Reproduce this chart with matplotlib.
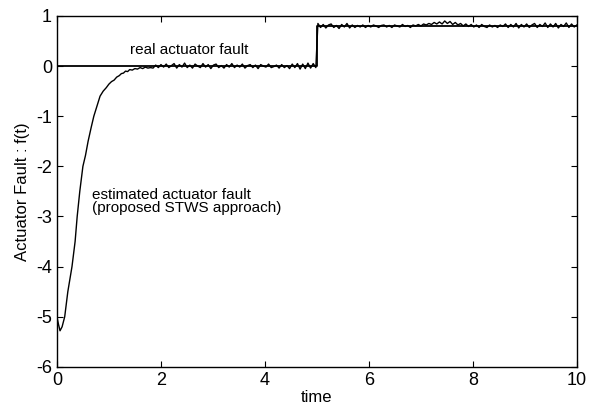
import numpy as np
import matplotlib
matplotlib.use("Agg")
import matplotlib.pyplot as plt

plt.rcParams['font.family'] = ['Liberation Sans', 'DejaVu Sans']
plt.rcParams['axes.unicode_minus'] = False

# real actuator fault (step at t = 5)
real_t = [0, 5, 5, 10]
real_f = [0, 0, 0.8, 0.8]

# estimated fault: transient part
est_t1 = [0, 0.03, 0.06, 0.1, 0.15, 0.21, 0.29, 0.35, 0.39, 0.44, 0.5, 0.55, 0.6,
          0.66, 0.71, 0.77, 0.83, 0.89, 0.95, 1.0, 1.05, 1.1, 1.15, 1.2, 1.24,
          1.28, 1.32, 1.36, 1.4, 1.45, 1.5, 1.55, 1.6, 1.65, 1.7, 1.75, 1.8]
est_f1 = [-5.0, -5.15, -5.28, -5.2, -5.0, -4.5, -4.0, -3.5, -3.0, -2.5, -2.0, -1.78, -1.5,
          -1.22, -1.0, -0.8, -0.6, -0.5, -0.43, -0.36, -0.31, -0.28, -0.22, -0.19, -0.15,
          -0.14, -0.1, -0.11, -0.07, -0.08, -0.05, -0.06, -0.03, -0.05, -0.02, -0.04, -0.03]

# estimated fault: steady part before the step (t = 1.85 .. 4.98)
est_f2 = [-0.04, 0.02, -0.03, 0.03, -0.02, 0.04, -0.03, 0.01, 0.05, -0.04, 0.03, -0.02,
          0.06, -0.03, 0.02, -0.04, 0.04, 0.00, -0.03, 0.05, -0.02, 0.03, -0.05, 0.02,
          0.04, -0.03, 0.01, -0.04, 0.03, -0.02, 0.05, -0.03, 0.02, -0.02, 0.04, -0.04,
          0.01, 0.03, -0.03, 0.02, -0.05, 0.03, 0.00, -0.02, 0.04, -0.03, -0.01, 0.02,
          -0.04, 0.03, -0.03, 0.01, -0.05, 0.04, -0.03, 0.05, -0.06, 0.04, -0.05, 0.06,
          -0.04, 0.05, -0.03]

# estimated fault: after the step (t = 5.02 .. 10)
est_f3 = [0.85, 0.77, 0.83, 0.76, 0.82, 0.84, 0.77, 0.81, 0.75, 0.83, 0.78, 0.85,
          0.76, 0.82, 0.77, 0.81, 0.78, 0.82, 0.77, 0.81, 0.78, 0.82, 0.80, 0.77,
          0.81, 0.82, 0.78, 0.81, 0.77, 0.82, 0.80, 0.78, 0.83, 0.79, 0.81, 0.77,
          0.82, 0.80, 0.83, 0.80, 0.84, 0.82, 0.85, 0.83, 0.87, 0.84, 0.88, 0.84,
          0.90, 0.85, 0.89, 0.83, 0.87, 0.82, 0.85, 0.80, 0.84, 0.79, 0.83, 0.78,
          0.82, 0.77, 0.83, 0.79, 0.77, 0.82, 0.78, 0.81, 0.77, 0.82, 0.79, 0.84,
          0.77, 0.83, 0.78, 0.85, 0.76, 0.83, 0.78, 0.84, 0.77, 0.82, 0.85, 0.77,
          0.83, 0.79, 0.86, 0.77, 0.84, 0.78, 0.85, 0.76, 0.83, 0.79, 0.86, 0.77,
          0.84, 0.78, 0.82]

est_t2 = np.linspace(1.85, 4.98, len(est_f2))
est_t3 = np.linspace(5.02, 10, len(est_f3))
est_t = np.concatenate([est_t1, est_t2, est_t3])
est_f = np.concatenate([est_f1, est_f2, est_f3])

fig = plt.figure(figsize=(5.99, 4.09), dpi=100)
ax = fig.add_axes([0.095, 0.103, 0.868, 0.858])

ax.plot(real_t, real_f, color='black', lw=1.3)
ax.plot(est_t, est_f, color='black', lw=1.0)

ax.set_xlim(0, 10)
ax.set_ylim(-6, 1)
ax.set_xticks([0, 2, 4, 6, 8, 10])
ax.set_yticks([-6, -5, -4, -3, -2, -1, 0, 1])
ax.tick_params(direction='in', top=True, right=True, labelsize=13, length=4)
for s in ax.spines.values():
    s.set_linewidth(1.0)

ax.set_xlabel("time", fontsize=12, labelpad=1)
ax.set_ylabel("Actuator Fault : f(t)", fontsize=12, labelpad=4)

ax.text(1.4, 0.32, "real actuator fault", fontsize=11, va='center')
ax.text(0.67, -2.58, "estimated actuator fault", fontsize=11, va='center')
ax.text(0.67, -2.84, "(proposed STWS approach)", fontsize=11, va='center')

fig.savefig("out.png", dpi=100)
